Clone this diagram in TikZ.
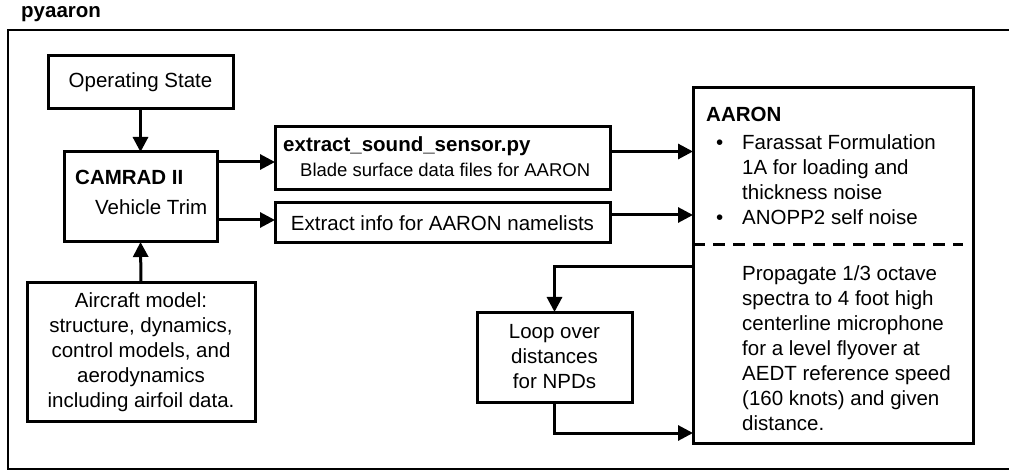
\documentclass[tikz,border=0pt]{standalone}
\usepackage{fontspec}
\setmainfont{Liberation Sans}
\usetikzlibrary{arrows.meta,calc}
\begin{document}
\begin{tikzpicture}[x=1pt,y=-1pt,
  box/.style={draw, line width=3pt, inner sep=0pt, outer sep=0pt},
  arr/.style={line width=3pt, -{Triangle[length=15pt,width=15pt]}},
  txt/.style={font=\fontsize{20.5}{25}\selectfont, inner sep=0pt},
  btxt/.style={font=\bfseries\fontsize{20.5}{25}\selectfont, inner sep=0pt},
  stxt/.style={font=\fontsize{18.5}{22}\selectfont, inner sep=0pt}]
\useasboundingbox (0,0) rectangle (1009,470);
\draw[line width=2.2pt] (8,30) rectangle (1020,469);
\node[btxt, anchor=base west] (title) at (21,18) {pyaaron};

\node[box, txt, minimum width=185pt, minimum height=53pt] (op) at (140.5,82.5) {Operating State};

\node[box, minimum width=153pt, minimum height=90pt] (camrad) at (140.5,197) {};
\node[btxt, anchor=base west] (camradt) at (75,185) {CAMRAD II};
\node[txt, anchor=base west] (vtrim) at (95,215) {Vehicle Trim};

\node[box, txt, align=center, minimum width=228pt, minimum height=138pt] (air) at (141,352)
  {Aircraft model:\\structure, dynamics,\\control models, and\\aerodynamics\\including airfoil data.};

\node[box, minimum width=335pt, minimum height=63pt] (sensor) at (442.5,158.5) {};
\node[btxt, anchor=base west] (sensort) at (283,152) {extract\_sound\_sensor.py};
\node[stxt, anchor=base west] (blade) at (300,177) {Blade surface data files for AARON};

\node[box, txt, minimum width=335pt, minimum height=40pt] (info) at (442.5,223) {Extract info for AARON namelists};

\node[box, minimum width=280pt, minimum height=355pt] (aaron) at (833,265.5) {};
\node[btxt, anchor=base west] (aaront) at (706,122) {AARON};
\node[txt, anchor=base west] (b1) at (716,150) {•};
\node[txt, anchor=base west] (b2) at (716,225) {•};
\node[txt, anchor=base west, align=left] (aaronup) at (742,225)
  {Farassat Formulation\\1A for loading and\\thickness noise\\ANOPP2 self noise};
\draw[line width=3pt, dash pattern=on 12pt off 8pt]
  ([yshift=20.5pt]aaron.west) -- ([xshift=-10pt,yshift=20.5pt]aaron.east);
\node[txt, anchor=base west, align=left] (aaronlow) at (742,430)
  {Propagate 1/3 octave\\spectra to 4 foot high\\centerline microphone\\for a level flyover at\\AEDT reference speed\\(160 knots) and given\\distance.};

\node[box, txt, align=center, minimum width=155pt, minimum height=90pt] (loop) at (554.5,357)
  {Loop over\\distances\\for NPDs};

\draw[arr] (op.south) -- (camrad.north);
\draw[arr] (air.north) -- (camrad.south);
\draw[arr] ([yshift=-10pt]camrad.north east) -- ([yshift=-3.5pt]sensor.west);
\draw[arr] ([yshift=-68pt]camrad.north east) -- ([yshift=3pt]info.west);
\draw[arr] ([yshift=7pt]sensor.east) -- ($(sensor.east)+(83,-7)$);
\draw[arr] ([yshift=8pt]info.east) -- ($(info.east)+(83,-8)$);
\draw[arr] ([yshift=-1.5pt]aaron.west) -| (loop.north);
\draw[arr] (loop.south) |- ([yshift=-167.5pt]aaron.west);
\end{tikzpicture}
\end{document}
